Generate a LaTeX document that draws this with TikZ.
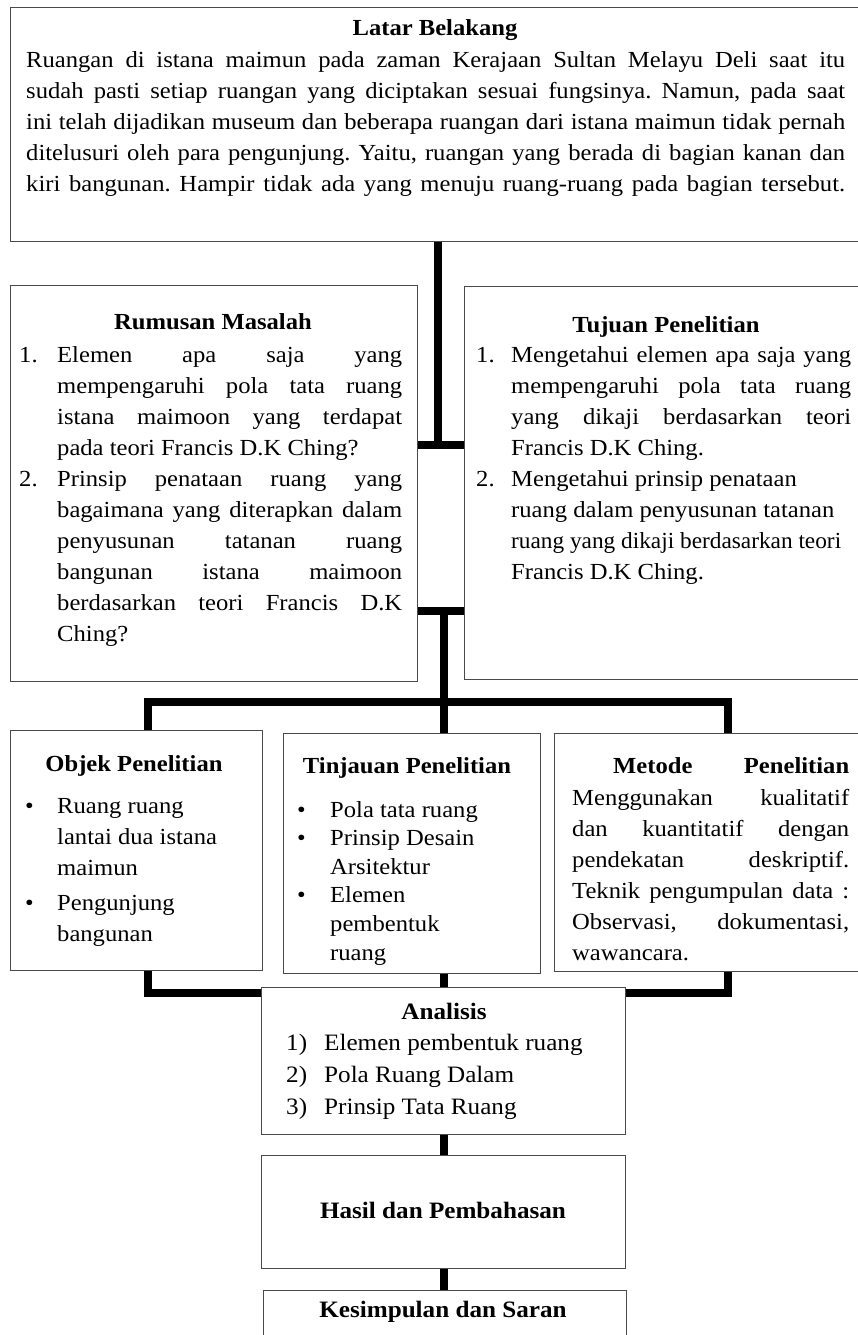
\documentclass[tikz,border=0pt]{standalone}
\usepackage{fontspec}
\usepackage{graphicx}
\setmainfont{Liberation Serif}[FakeStretch=1.07]
\newcommand\js[2]{{\spaceskip=0pt\xspaceskip=0pt\makebox[#1][s]{#2}}}
\newcommand\jl[2]{{\spaceskip=0pt\xspaceskip=0pt\makebox[#1][l]{#2}}}
\newcommand\fitw[2]{\resizebox{#1}{\height}{#2}}
\definecolor{boxgray}{HTML}{4A4A4A}
\tikzset{
  box/.style={draw=boxgray, line width=1.3pt, inner sep=0pt, anchor=north west},
  conn/.style={draw=black, line width=8pt, line join=miter},
  txt/.style={anchor=base west, inner sep=0pt, align=justify, font=\fontsize{23}{31}\selectfont\frenchspacing},
  ttl/.style={anchor=base, inner sep=0pt, font=\fontsize{23}{31}\selectfont\bfseries},
  btxt/.style={anchor=base west, inner sep=0pt, align=justify, font=\fontsize{23.5}{32}\selectfont\frenchspacing},
  bttl/.style={anchor=base, inner sep=0pt, font=\fontsize{23.5}{32}\selectfont\bfseries},
}
\begin{document}
\begin{tikzpicture}[x=1pt,y=-1pt]
\useasboundingbox (0,0) rectangle (858,1335);
\clip (0,0) rectangle (858,1335);
\fill[white] (0,0) rectangle (858,1335);

% boxes
\node[box, minimum width=860pt, minimum height=234pt] (latar) at (10,7) {};
\node[box, minimum width=407pt, minimum height=396pt] (rumusan) at (10,285) {};
\node[box, minimum width=405pt, minimum height=393pt] (tujuan) at (464,286) {};
\node[box, minimum width=252pt, minimum height=240pt] (objek) at (10,730) {};
\node[box, minimum width=257pt, minimum height=240pt] (tinjauan) at (283,733) {};
\node[box, minimum width=316pt, minimum height=238pt] (metode) at (554,733) {};
\node[box, minimum width=364pt, minimum height=147pt] (analisis) at (261,987) {};
\node[box, minimum width=364pt, minimum height=113pt] (hasil) at (261,1155) {};
\node[box, minimum width=363pt, minimum height=80pt] (kes) at (263,1290) {};

% Latar Belakang
\node[ttl] (latarttl) at (435,36) {Latar Belakang};
\node[txt, text width=819pt] (latartxt) at (26,68) {%
\js{819pt}{Ruangan di istana maimun pada zaman Kerajaan Sultan Melayu Deli saat itu}\\
\js{819pt}{sudah pasti setiap ruangan yang diciptakan sesuai fungsinya. Namun, pada saat}\\
\js{819pt}{ini telah dijadikan museum dan beberapa ruangan dari istana maimun tidak pernah}\\
\js{819pt}{ditelusuri oleh para pengunjung. Yaitu, ruangan yang berada di bagian kanan dan}\\
\js{819pt}{kiri bangunan. Hampir tidak ada yang menuju ruang-ruang pada bagian tersebut.}};

% Rumusan Masalah
\node[ttl] (rumttl) at (213,329) {Rumusan Masalah};
\node[txt, text width=383pt] (rumtxt) at (19,362) {%
\jl{38pt}{1.}\js{345pt}{Elemen apa saja yang}\\
\hspace*{38pt}\js{345pt}{mempengaruhi pola tata ruang}\\
\hspace*{38pt}\js{345pt}{istana maimoon yang terdapat}\\
\hspace*{38pt}\jl{345pt}{pada teori Francis D.K Ching?}\\
\jl{38pt}{2.}\js{345pt}{Prinsip penataan ruang yang}\\
\hspace*{38pt}\js{345pt}{bagaimana yang diterapkan dalam}\\
\hspace*{38pt}\js{345pt}{penyusunan tatanan ruang}\\
\hspace*{38pt}\js{345pt}{bangunan istana maimoon}\\
\hspace*{38pt}\js{345pt}{berdasarkan teori Francis D.K}\\
\hspace*{38pt}\jl{345pt}{Ching?}};

% Tujuan Penelitian
\node[ttl] (tujttl) at (666,332) {Tujuan Penelitian};
\node[txt, text width=375pt] (tujtxt) at (476,362) {%
\jl{35pt}{1.}\js{340pt}{Mengetahui elemen apa saja yang}\\
\hspace*{35pt}\js{340pt}{mempengaruhi pola tata ruang}\\
\hspace*{35pt}\js{340pt}{yang dikaji berdasarkan teori}\\
\hspace*{35pt}\jl{340pt}{Francis D.K Ching.}\\
\jl{35pt}{2.}\jl{340pt}{Mengetahui prinsip penataan}\\
\hspace*{35pt}\jl{340pt}{ruang dalam penyusunan tatanan}\\
\hspace*{35pt}\jl{340pt}{\fitw{330pt}{ruang yang dikaji berdasarkan teori}}\\
\hspace*{35pt}\jl{340pt}{Francis D.K Ching.}};

% Objek Penelitian
\node[ttl] (objttl) at (134,771) {Objek Penelitian};
\node[txt, text width=230pt] (objtxt) at (25,813) {%
\jl{32pt}{\textbullet}\jl{198pt}{Ruang ruang}\\
\hspace*{32pt}\jl{198pt}{lantai dua istana}\\
\hspace*{32pt}\jl{198pt}{maimun}\\[4pt]
\jl{32pt}{\textbullet}\jl{198pt}{Pengunjung}\\
\hspace*{32pt}\jl{198pt}{bangunan}};

% Tinjauan Penelitian
\node[ttl] (tinttl) at (407,773) {Tinjauan Penelitian};
\node[txt, text width=235pt, font=\fontsize{23}{28.6}\selectfont\frenchspacing] (tintxt) at (297,817) {%
\jl{33pt}{\textbullet}\jl{202pt}{Pola tata ruang}\\
\jl{33pt}{\textbullet}\jl{202pt}{Prinsip Desain}\\
\hspace*{33pt}\jl{202pt}{Arsitektur}\\
\jl{33pt}{\textbullet}\jl{202pt}{Elemen}\\
\hspace*{33pt}\jl{202pt}{pembentuk}\\
\hspace*{33pt}\jl{202pt}{ruang}};

% Metode Penelitian
\node[txt, text width=277pt, font=\fontsize{23}{31}\selectfont\bfseries] (metttl) at (572,773) {%
\hspace*{41pt}\js{236pt}{Metode Penelitian}};
\node[txt, text width=277pt] (mettxt) at (572,805) {%
\js{277pt}{Menggunakan kualitatif}\\
\js{277pt}{dan kuantitatif dengan}\\
\js{277pt}{pendekatan deskriptif.}\\
\js{277pt}{Teknik pengumpulan data :}\\
\js{277pt}{Observasi, dokumentasi,}\\
\jl{277pt}{wawancara.}};

% Analisis
\node[bttl] (anattl) at (444,1019) {Analisis};
\node[btxt, text width=300pt] (anatxt) at (286,1050) {%
\jl{38pt}{1)}\jl{262pt}{Elemen pembentuk ruang}\\
\jl{38pt}{2)}\jl{262pt}{Pola Ruang Dalam}\\
\jl{38pt}{3)}\jl{262pt}{Prinsip Tata Ruang}};

% Hasil, Kesimpulan
\node[bttl] (hasilttl) at (443,1218) {Hasil dan Pembahasan};
\node[bttl] (kesttl) at (443,1317) {Kesimpulan dan Saran};

% connectors
\coordinate (a1) at (438,445);
\coordinate (a2) at (444,611);
\coordinate (hb) at (444,702);
\coordinate (hl) at (148,702);
\coordinate (hr) at (728,702);
\coordinate (bl) at (148,993);
\coordinate (br) at (728,993);

\draw[conn] (latar.south -| a1) -- (a1);
\draw[conn] (rumusan.east |- a1) -- (tujuan.west |- a1);
\draw[conn] (rumusan.east |- a2) -- (tujuan.west |- a2);
\draw[conn] (a2) -- (hb);
\draw[conn] (objek.north -| hl) -- (hl) -- (hr) -- (metode.north -| hr);
\draw[conn] (hb) -- (tinjauan.north -| hb);
\draw[conn] (objek.south -| bl) -- (bl) -- (analisis.west |- bl);
\draw[conn] (metode.south -| br) -- (br) -- (analisis.east |- br);
\draw[conn] (tinjauan.south -| hb) -- (analisis.north -| hb);
\draw[conn] (analisis.south -| hb) -- (hasil.north -| hb);
\draw[conn] (hasil.south -| hb) -- (kes.north -| hb);
\end{tikzpicture}
\end{document}
